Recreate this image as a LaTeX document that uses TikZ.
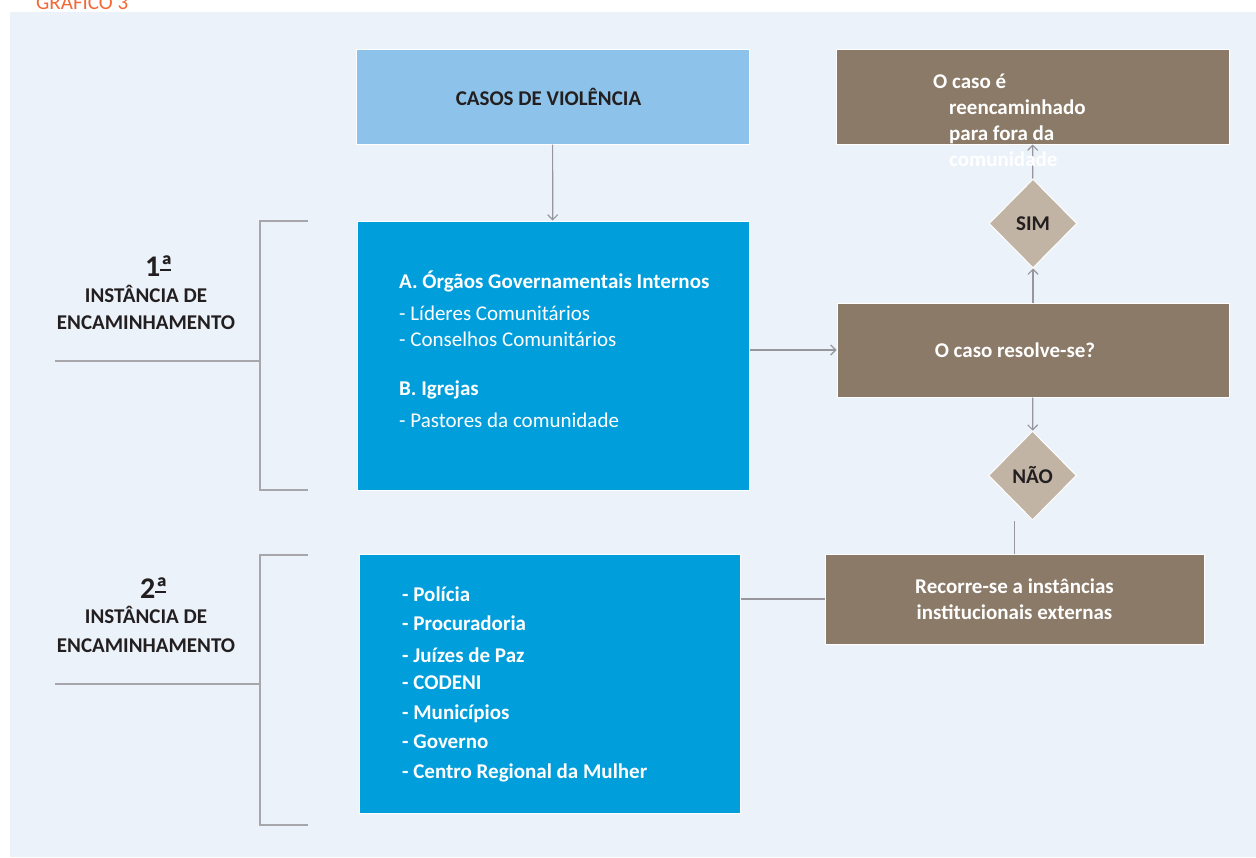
\documentclass[tikz,border=0pt]{standalone}
\usepackage{fontspec}
\setmainfont{Carlito}
\usepackage{tikz}
\usetikzlibrary{shapes.geometric}
\usetikzlibrary{arrows.meta}
\usetikzlibrary{positioning}
\definecolor{fundo}{RGB}{235,242,250}
\definecolor{azulclaro}{RGB}{141,195,234}
\definecolor{azulforte}{RGB}{0,158,219}
\definecolor{castanho}{RGB}{139,122,103}
\definecolor{bege}{RGB}{193,180,165}
\definecolor{escuro}{RGB}{35,31,32}
\definecolor{linha}{RGB}{150,150,156}
\definecolor{laranja}{RGB}{242,104,56}
% ordinal sublinhado
\newcommand{\ordsub}{\rlap{\raisebox{5pt}{\rule{11pt}{1.8pt}}}ª}

\begin{document}
\begin{tikzpicture}[x=1pt,y=-1pt,
  font=\fontsize{21}{26}\selectfont,
  caixa/.style = {rectangle,draw=white,line width=1pt,inner sep=0pt},
  azul/.style = {caixa,fill=azulforte},
  castanho/.style = {caixa,fill=castanho,text=white,align=center,
        font=\fontsize{21}{26}\selectfont\bfseries},
  losango/.style = {diamond,draw=white,line width=1pt,fill=bege,inner sep=0pt,
        minimum width=88pt,minimum height=89pt,text=escuro,
        font=\fontsize{21}{26}\selectfont\bfseries},
  texto/.style = {inner sep=0pt,align=left,text=white},
  rotulo/.style = {inner sep=0pt,align=center,text=escuro,
        font=\fontsize{21}{26}\selectfont\bfseries},
  seta/.style = {draw=linha,line width=1.2pt,-{Straight Barb[length=5pt,width=10pt]}},
  liga/.style = {draw=linha,line width=1.2pt},
  chave/.style = {draw=linha!85,line width=1.5pt}]
 \useasboundingbox (0,0) rectangle (1256,857);
 \fill[fundo] (10,12) rectangle (1256,857);
 \node[anchor=base west,inner sep=0pt,text=laranja] (titulo) at (36,9) {GRÁFICO 3};

 % caixas
 \node[caixa,fill=azulclaro,minimum width=393pt,minimum height=95pt] (casos) at (552.5,96.5) {};
 \node[azul,minimum width=392pt,minimum height=269pt] (boxA) at (553,355.5) {};
 \node[azul,minimum width=381pt,minimum height=259pt] (boxB) at (549.5,683.5) {};
 \node[castanho,minimum width=393pt,minimum height=95pt] (topo) at (1032.5,96.5) {};
 \node[castanho,minimum width=392pt,minimum height=94pt] (resolve) at (1033,350) {};
 \node[castanho,minimum width=379pt,minimum height=90pt] (recorre) at (1014.5,599)
       {Recorre-se a instâncias\\institucionais externas};
 \node[losango] (sim) at (1033,223.5) {SIM};
 \node[losango] (nao) at (1032.5,475.5) {NÃO};

 % ligacoes
 \path[seta] (casos) -- (boxA);
 \path[seta] (boxA.east |- resolve.west) -- (resolve.west);
 \path[seta] (resolve) -- (sim);
 \path[seta] (sim) -- (topo);
 \path[seta] (resolve) -- (nao);
 \path[liga] (recorre.north) -- (recorre.north |- nao.south);
 \path[liga] (recorre.west) -- (recorre.west -| boxB.east);

 % textos (base = ultima linha)
 \node[rotulo] (txtCasos) at (548.5,97) {CASOS DE VIOLÊNCIA};
 \node[texto,font=\fontsize{21}{26}\selectfont\bfseries] (txtResolve) at (1015,350) {O caso resolve-se?};
 \node[texto,anchor=base west] (txtA) at (399,427)
   {\textbf{A. Órgãos Governamentais Internos}\\[6pt]
    - Líderes Comunitários\\
    - Conselhos Comunitários\\[23pt]
    \textbf{B. Igrejas}\\[6pt]
    - Pastores da comunidade};
 \node[texto,anchor=base west,font=\fontsize{21}{26}\selectfont\bfseries] (txtB) at (402,778)
   {- Polícia\\[3pt]
    - Procuradoria\\[6pt]
    - Juízes de Paz\\[1pt]
    - CODENI\\[4pt]
    - Municípios\\[3pt]
    - Governo\\[4pt]
    - Centro Regional da Mulher};
 \node[texto,anchor=base west,font=\fontsize{21}{26}\selectfont\bfseries] (txtTopo) at (933,166)
   {O caso é\\
    \hspace*{16pt}reencaminhado\\
    \hspace*{16pt}para fora da\\
    \hspace*{16pt}comunidade};

 % instancias
 \node[rotulo,anchor=base,font=\fontsize{30}{36}\selectfont\bfseries] (num1) at (159,276) {1\ordsub};
 \node[rotulo,anchor=base] (inst1) at (146,329) {INSTÂNCIA DE\\[1pt]ENCAMINHAMENTO};
 \node[rotulo,anchor=base,font=\fontsize{30}{36}\selectfont\bfseries] (num2) at (154,598) {2\ordsub};
 \node[rotulo,anchor=base] (inst2) at (146,652) {INSTÂNCIA DE\\[3pt]ENCAMINHAMENTO};
 \draw[chave] (308,221) -- (260,221) -- (260,490) -- (308,490);
 \draw[chave] (55,361) -- (260,361);
 \draw[chave] (308,555) -- (260,555) -- (260,825) -- (308,825);
 \draw[chave] (55,684) -- (260,684);
\end{tikzpicture}
\end{document}
